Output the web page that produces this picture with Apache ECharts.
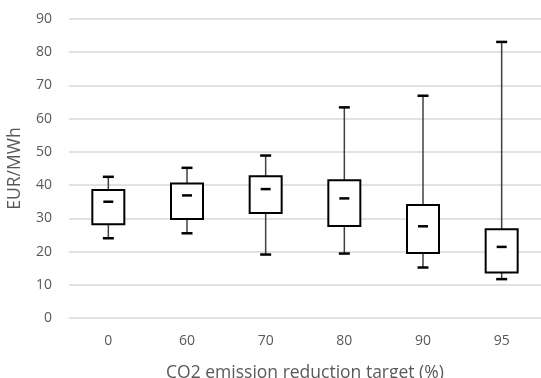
<!DOCTYPE html>
<html>
<head>
<meta charset="utf-8">
<script src="https://cdn.jsdelivr.net/npm/echarts@6/dist/echarts.min.js"></script>
<style>
  html, body { margin: 0; padding: 0; background: #fff; }
  #chart { width: 541px; height: 378px; }
</style>
</head>
<body>
<div id="chart"></div>
<script>
// CO2 reduction target categories
var categories = ['0', '60', '70', '80', '90', '95'];
// box statistics (EUR/MWh)
var lowValues    = [24.0, 25.5, 19.1, 19.4, 15.2, 11.7];
var q1Values     = [28.2, 29.8, 31.6, 27.7, 19.6, 13.7];
var medianValues = [35.0, 36.9, 38.8, 36.0, 27.6, 21.4];
var q3Values     = [38.5, 40.5, 42.7, 41.5, 34.0, 26.7];
var highValues   = [42.5, 45.2, 48.9, 63.4, 66.9, 83.1];

var boxData = [], i;
for (i = 0; i < categories.length; i++) {
    boxData.push([i, lowValues[i], q1Values[i], medianValues[i], q3Values[i], highValues[i]]);
}

var font = '"Open Sans", sans-serif';
var myChart = echarts.init(document.getElementById('chart'));

function renderBox(params, api) {
    var x = api.value(0),
        pLow = api.coord([x, api.value(1)]),
        pQ1 = api.coord([x, api.value(2)]),
        pMed = api.coord([x, api.value(3)]),
        pQ3 = api.coord([x, api.value(4)]),
        pHigh = api.coord([x, api.value(5)]),
        cx = pQ1[0],
        boxW = 32, capW = 11, dashW = 10,
        whisker = { stroke: '#404040', lineWidth: 1.5 },
        thick = { stroke: '#000', lineWidth: 2.5 };

    return {
        type: 'group',
        children: [
            { type: 'line', shape: { x1: cx, y1: pQ3[1], x2: cx, y2: pHigh[1] }, style: whisker },
            { type: 'line', shape: { x1: cx, y1: pLow[1], x2: cx, y2: pQ1[1] }, style: whisker },
            { type: 'line', shape: { x1: cx - capW / 2, y1: pHigh[1], x2: cx + capW / 2, y2: pHigh[1] }, style: thick },
            { type: 'line', shape: { x1: cx - capW / 2, y1: pLow[1], x2: cx + capW / 2, y2: pLow[1] }, style: thick },
            {
                type: 'rect',
                shape: { x: cx - boxW / 2, y: pQ3[1], width: boxW, height: pQ1[1] - pQ3[1] },
                style: { fill: '#fff', stroke: '#000', lineWidth: 2 }
            },
            { type: 'line', shape: { x1: cx - dashW / 2, y1: pMed[1], x2: cx + dashW / 2, y2: pMed[1] }, style: thick }
        ]
    };
}

var option = {
    animation: false,
    grid: { left: 69, right: 0, top: 19, bottom: 60, outerBoundsMode: 'none' },
    xAxis: {
        type: 'category',
        data: categories,
        name: 'CO2 emission reduction target (%)',
        nameLocation: 'middle',
        nameGap: 46,
        nameTextStyle: { color: '#595959', fontSize: 17.5, fontFamily: font },
        axisLine: { show: false },
        axisTick: { show: false },
        axisLabel: { color: '#595959', fontSize: 14, fontFamily: font, margin: 16 }
    },
    yAxis: {
        type: 'value',
        min: 0,
        max: 90,
        interval: 10,
        name: 'EUR/MWh',
        nameLocation: 'middle',
        nameGap: 45,
        nameTextStyle: { color: '#595959', fontSize: 17.5, fontFamily: font },
        axisLabel: { color: '#595959', fontSize: 14, fontFamily: font, margin: 17 },
        splitLine: { lineStyle: { color: '#d9d9d9', width: 1.5 } }
    },
    series: [{
        type: 'custom',
        renderItem: renderBox,
        data: boxData,
        encode: { x: 0, y: [1, 2, 3, 4, 5] }
    }]
};

myChart.setOption(option);
</script>
</body>
</html>
